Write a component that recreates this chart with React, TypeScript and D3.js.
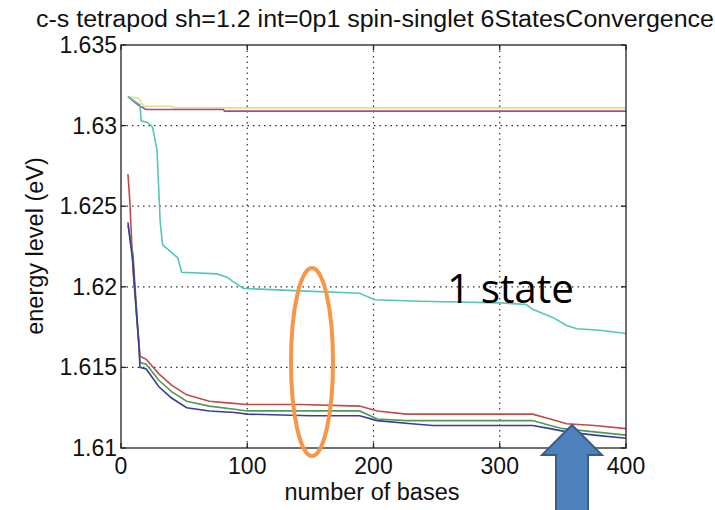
import React from "react";
import * as d3 from "d3";

const W = 715;
const H = 510;

const titleText = "c-s tetrapod sh=1.2 int=0p1 spin-singlet 6StatesConvergence";
const xLabel = "number of bases";
const yLabel = "energy level (eV)";
const annotation = "1 state";

const xTicks = [0, 100, 200, 300, 400];
const yTicks = [1.61, 1.615, 1.62, 1.625, 1.63, 1.635];
const yTickLabels = ["1.61", "1.615", "1.62", "1.625", "1.63", "1.635"];

// series: [bases, energy]
const blueSeries: [number, number][] = [
  [5.5, 1.624], [7, 1.623], [9.5, 1.6215], [12.7, 1.6179], [14.3, 1.6162], [15, 1.615],
  [20, 1.6149], [30, 1.6138], [40, 1.6131], [52, 1.6125], [70, 1.6123], [90, 1.6122],
  [100, 1.6121], [150, 1.612], [189, 1.612], [203, 1.6117], [230, 1.6115], [247, 1.6114],
  [326, 1.6114], [340, 1.6112], [353, 1.611], [375, 1.6108], [400, 1.6106],
];
const greenSeries: [number, number][] = [
  [5.5, 1.6238], [7, 1.6232], [9.5, 1.622], [12.7, 1.6181], [14.3, 1.6165], [15, 1.6153],
  [20, 1.6152], [30, 1.6142], [40, 1.6135], [52, 1.6129], [70, 1.6126], [90, 1.6124],
  [100, 1.6123], [150, 1.6123], [189, 1.6123], [203, 1.6118], [226, 1.6117],
  [326, 1.6117], [340, 1.6114], [350, 1.6112], [375, 1.611], [400, 1.6108],
];
const redSeries: [number, number][] = [
  [5.5, 1.627], [7, 1.6253], [9.5, 1.621], [13.5, 1.6171], [15, 1.6157],
  [20, 1.6155], [30, 1.6146], [40, 1.6139], [52, 1.6133], [70, 1.6129], [84, 1.6128],
  [100, 1.6127], [142, 1.6127], [189, 1.6126], [203, 1.6123], [226, 1.6121],
  [326, 1.6121], [340, 1.6118], [353, 1.6115], [375, 1.6114], [400, 1.6112],
];
const cyanSeries: [number, number][] = [
  [5.5, 1.6318], [15, 1.6313], [16, 1.6303], [21, 1.6302], [25, 1.6299], [28.5, 1.6285],
  [31, 1.6241], [32.5, 1.6229], [33, 1.6226], [39, 1.6222], [45, 1.6218], [48, 1.6209],
  [76, 1.6208], [84, 1.6206], [89, 1.6203], [97, 1.6199], [142, 1.61975], [189, 1.6196],
  [201, 1.6192], [237, 1.6191], [300, 1.619], [321, 1.6189], [326, 1.6186], [342, 1.6181],
  [353, 1.6176], [361, 1.6174], [379, 1.6173], [400, 1.6171],
];
const magentaSeries: [number, number][] = [
  [5.5, 1.6318], [10, 1.6315], [15, 1.6312], [20, 1.631], [81, 1.631], [82, 1.6309], [400, 1.6309],
];
const yellowSeries: [number, number][] = [
  [5.5, 1.6318], [14, 1.6317], [18, 1.6312], [40, 1.6312], [42, 1.6311], [400, 1.6311],
];

const seriesList = [
  { name: "yellow", data: yellowSeries, color: "#e6de8a" },
  { name: "magenta", data: magentaSeries, color: "#a8479c" },
  { name: "cyan", data: cyanSeries, color: "#55c6b8" },
  { name: "red", data: redSeries, color: "#c24a4a" },
  { name: "green", data: greenSeries, color: "#4f9a55" },
  { name: "blue", data: blueSeries, color: "#3a3d98" },
];

const left = 121;
const right = 626;
const top = 45;
const bottom = 448;

export default function App() {
  const x = d3.scaleLinear().domain([0, 400]).range([left, right]);
  const y = d3.scaleLinear().domain([1.61, 1.635]).range([bottom, top]);
  const line = d3
    .line<[number, number]>()
    .x((d) => x(d[0]))
    .y((d) => y(d[1]));

  const font = "'Liberation Sans', Arial, sans-serif";
  const tickLen = 5;

  const ax = 572;
  const arrowPath = `M ${ax} 425 L ${ax + 30} 455 L ${ax + 16} 455 L ${ax + 16} 515 L ${ax - 16} 515 L ${ax - 16} 455 L ${ax - 30} 455 Z`;

  return (
    <svg
      width={W}
      height={H}
      style={{ position: "absolute", left: 0, top: 0, background: "#fff" }}
    >
      <rect x={0} y={0} width={W} height={H} fill="#fff" />
      {xTicks.slice(1, -1).map((t) => (
        <line key={"gx" + t} x1={x(t)} x2={x(t)} y1={top} y2={bottom}
          stroke="#333" strokeWidth={1.2} strokeDasharray="1.5 4" />
      ))}
      {yTicks.slice(1, -1).map((t) => (
        <line key={"gy" + t} x1={left} x2={right} y1={y(t)} y2={y(t)}
          stroke="#333" strokeWidth={1.2} strokeDasharray="1.5 4" />
      ))}
      {seriesList.map((s) => (
        <path key={s.name} d={line(s.data) || ""} fill="none" stroke={s.color} strokeWidth={1.6} />
      ))}
      <rect x={left} y={top} width={right - left} height={bottom - top} fill="none" stroke="#222" strokeWidth={1.3} />
      {xTicks.map((t) => (
        <g key={"xt" + t}>
          <line x1={x(t)} x2={x(t)} y1={bottom} y2={bottom - tickLen} stroke="#222" strokeWidth={1.3} />
          <line x1={x(t)} x2={x(t)} y1={top} y2={top + tickLen} stroke="#222" strokeWidth={1.3} />
          <text x={x(t)} y={bottom + 26} textAnchor="middle" fontFamily={font} fontSize={23} fill="#111">
            {String(t)}
          </text>
        </g>
      ))}
      {yTicks.map((t, i) => (
        <g key={"yt" + t}>
          <line x1={left} x2={left + tickLen} y1={y(t)} y2={y(t)} stroke="#222" strokeWidth={1.3} />
          <line x1={right} x2={right - tickLen} y1={y(t)} y2={y(t)} stroke="#222" strokeWidth={1.3} />
          <text x={left - 4} y={y(t) + 8} textAnchor="end" fontFamily={font} fontSize={23} fill="#111">
            {yTickLabels[i]}
          </text>
        </g>
      ))}
      <text x={36} y={27} fontFamily={font} fontSize={23} fill="#111"
        textLength={678} lengthAdjust="spacingAndGlyphs">{titleText}</text>
      <text x={372} y={500} textAnchor="middle" fontFamily={font} fontSize={23.5} fill="#111">{xLabel}</text>
      <text transform={`translate(43, 246) rotate(-90)`} textAnchor="middle" fontFamily={font} fontSize={23.5} fill="#111">
        {yLabel}
      </text>
      <text x={447} y={303} fontFamily="'Open Sans', 'Noto Sans', sans-serif" fontSize={41} fill="#000"
        textLength={127} lengthAdjust="spacingAndGlyphs">
        {annotation}
      </text>
      <ellipse cx={312} cy={362} rx={21} ry={94} fill="none" stroke="#f79646" strokeWidth={4} />
      <path d={arrowPath} fill="#4f81bd" stroke="#385d8a" strokeWidth={2} />
    </svg>
  );
}
